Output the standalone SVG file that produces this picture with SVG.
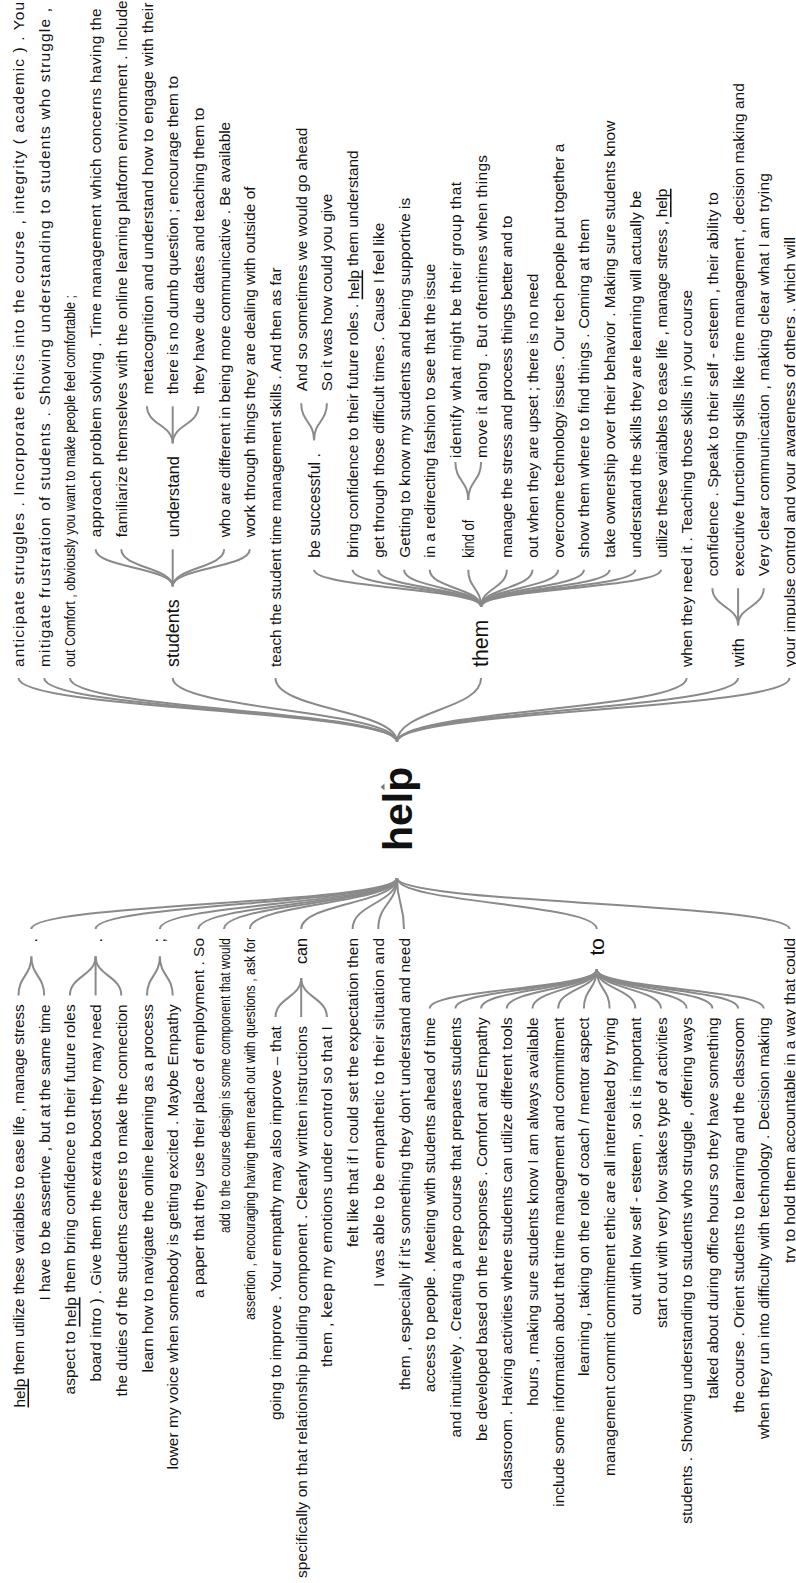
<svg xmlns="http://www.w3.org/2000/svg" width="796" height="1583" viewBox="0 0 796 1583">
<style>
.t{font-family:"Liberation Sans",Arial,sans-serif;font-size:15.4px;fill:#111;dominant-baseline:central}
.s{text-anchor:start}
.e{text-anchor:end}
.lk{fill:none;stroke:#8a8a8a;stroke-width:2}
.u{text-decoration:underline}
</style>
<rect width="796" height="1583" fill="#fff"/>
<g transform="translate(0,1583) rotate(-90)">
<g id="connectors">
<path class="lk" d="M841,397 C873,397 873,18.5 905,18.5"/>
<path class="lk" d="M841,397 C873,397 873,44.2 905,44.2"/>
<path class="lk" d="M841,397 C873,397 873,69.9 905,69.9"/>
<path class="lk" d="M841,397 C873,397 873,172.7 905,172.7"/>
<path class="lk" d="M841,397 C873,397 873,275.5 905,275.5"/>
<path class="lk" d="M841,397 C873,397 873,481.1 905,481.1"/>
<path class="lk" d="M841,397 C873,397 873,686.7 905,686.7"/>
<path class="lk" d="M841,397 C873,397 873,738.1 905,738.1"/>
<path class="lk" d="M841,397 C873,397 873,789.5 905,789.5"/>
<path class="lk" d="M705,397 C679.5,397 679.5,31.35 654,31.35"/>
<path class="lk" d="M705,397 C679.5,397 679.5,95.6 654,95.6"/>
<path class="lk" d="M705,397 C679.5,397 679.5,159.85 654,159.85"/>
<path class="lk" d="M705,397 C679.5,397 679.5,198.4 654,198.4"/>
<path class="lk" d="M705,397 C679.5,397 679.5,224.1 654,224.1"/>
<path class="lk" d="M705,397 C679.5,397 679.5,249.8 654,249.8"/>
<path class="lk" d="M705,397 C679.5,397 679.5,301.2 654,301.2"/>
<path class="lk" d="M705,397 C679.5,397 679.5,352.6 654,352.6"/>
<path class="lk" d="M705,397 C679.5,397 679.5,378.3 654,378.3"/>
<path class="lk" d="M705,397 C679.5,397 679.5,404 654,404"/>
<path class="lk" d="M705,397 C679.5,397 679.5,596.75 654,596.75"/>
<path class="lk" d="M705,397 C679.5,397 679.5,789.5 654,789.5"/>
<path class="lk" d="M996.7,172.7 C1015.2,172.7 1015.2,95.6 1033.7,95.6"/>
<path class="lk" d="M996.7,172.7 C1015.2,172.7 1015.2,121.3 1033.7,121.3"/>
<path class="lk" d="M996.7,172.7 L1033.7,172.7"/>
<path class="lk" d="M996.7,172.7 C1015.2,172.7 1015.2,224.1 1033.7,224.1"/>
<path class="lk" d="M996.7,172.7 C1015.2,172.7 1015.2,249.8 1033.7,249.8"/>
<path class="lk" d="M1139.7,172.7 C1158.2,172.7 1158.2,147 1176.7,147"/>
<path class="lk" d="M1139.7,172.7 L1176.7,172.7"/>
<path class="lk" d="M1139.7,172.7 C1158.2,172.7 1158.2,198.4 1176.7,198.4"/>
<path class="lk" d="M976.3,481.1 C994.8,481.1 994.8,314.05 1013.3,314.05"/>
<path class="lk" d="M976.3,481.1 C994.8,481.1 994.8,352.6 1013.3,352.6"/>
<path class="lk" d="M976.3,481.1 C994.8,481.1 994.8,378.3 1013.3,378.3"/>
<path class="lk" d="M976.3,481.1 C994.8,481.1 994.8,404 1013.3,404"/>
<path class="lk" d="M976.3,481.1 C994.8,481.1 994.8,429.7 1013.3,429.7"/>
<path class="lk" d="M976.3,481.1 C994.8,481.1 994.8,468.25 1013.3,468.25"/>
<path class="lk" d="M976.3,481.1 C994.8,481.1 994.8,506.8 1013.3,506.8"/>
<path class="lk" d="M976.3,481.1 C994.8,481.1 994.8,532.5 1013.3,532.5"/>
<path class="lk" d="M976.3,481.1 C994.8,481.1 994.8,558.2 1013.3,558.2"/>
<path class="lk" d="M976.3,481.1 C994.8,481.1 994.8,583.9 1013.3,583.9"/>
<path class="lk" d="M976.3,481.1 C994.8,481.1 994.8,609.6 1013.3,609.6"/>
<path class="lk" d="M976.3,481.1 C994.8,481.1 994.8,635.3 1013.3,635.3"/>
<path class="lk" d="M976.3,481.1 C994.8,481.1 994.8,661 1013.3,661"/>
<path class="lk" d="M1142.8,314.05 C1161.3,314.05 1161.3,301.2 1179.8,301.2"/>
<path class="lk" d="M1142.8,314.05 C1161.3,314.05 1161.3,326.9 1179.8,326.9"/>
<path class="lk" d="M1083,468.25 C1102,468.25 1102,455.4 1121,455.4"/>
<path class="lk" d="M1083,468.25 C1102,468.25 1102,481.1 1121,481.1"/>
<path class="lk" d="M957.8,738.1 C976.3,738.1 976.3,712.4 994.8,712.4"/>
<path class="lk" d="M957.8,738.1 L994.8,738.1"/>
<path class="lk" d="M957.8,738.1 C976.3,738.1 976.3,763.8 994.8,763.8"/>
<path class="lk" d="M626.6,31.35 C607.1,31.35 607.1,18.5 587.6,18.5"/>
<path class="lk" d="M626.6,31.35 C607.1,31.35 607.1,44.2 587.6,44.2"/>
<path class="lk" d="M626.6,95.6 C607.1,95.6 607.1,69.9 587.6,69.9"/>
<path class="lk" d="M626.6,95.6 L587.6,95.6"/>
<path class="lk" d="M626.6,95.6 C607.1,95.6 607.1,121.3 587.6,121.3"/>
<path class="lk" d="M626.6,159.85 C607.1,159.85 607.1,147 587.6,147"/>
<path class="lk" d="M626.6,159.85 C607.1,159.85 607.1,172.7 587.6,172.7"/>
<path class="lk" d="M604.9,301.2 C585.4,301.2 585.4,275.5 565.9,275.5"/>
<path class="lk" d="M604.9,301.2 L565.9,301.2"/>
<path class="lk" d="M604.9,301.2 C585.4,301.2 585.4,326.9 565.9,326.9"/>
<path class="lk" d="M613.6,596.75 C594.1,596.75 594.1,429.7 574.6,429.7"/>
<path class="lk" d="M613.6,596.75 C594.1,596.75 594.1,455.4 574.6,455.4"/>
<path class="lk" d="M613.6,596.75 C594.1,596.75 594.1,481.1 574.6,481.1"/>
<path class="lk" d="M613.6,596.75 C594.1,596.75 594.1,506.8 574.6,506.8"/>
<path class="lk" d="M613.6,596.75 C594.1,596.75 594.1,532.5 574.6,532.5"/>
<path class="lk" d="M613.6,596.75 C594.1,596.75 594.1,558.2 574.6,558.2"/>
<path class="lk" d="M613.6,596.75 C594.1,596.75 594.1,583.9 574.6,583.9"/>
<path class="lk" d="M613.6,596.75 C594.1,596.75 594.1,609.6 574.6,609.6"/>
<path class="lk" d="M613.6,596.75 C594.1,596.75 594.1,635.3 574.6,635.3"/>
<path class="lk" d="M613.6,596.75 C594.1,596.75 594.1,661 574.6,661"/>
<path class="lk" d="M613.6,596.75 C594.1,596.75 594.1,686.7 574.6,686.7"/>
<path class="lk" d="M613.6,596.75 C594.1,596.75 594.1,712.4 574.6,712.4"/>
<path class="lk" d="M613.6,596.75 C594.1,596.75 594.1,738.1 574.6,738.1"/>
<path class="lk" d="M613.6,596.75 C594.1,596.75 594.1,763.8 574.6,763.8"/>
</g>
<g id="root"><text class="t s" x="732" y="398" style="font-size:41px;font-weight:bold">help</text></g>
<g id="suffix">
<g id="s1"><text class="t s" x="916" y="18.5" textLength="665" lengthAdjust="spacing">anticipate struggles . Incorporate ethics into the course , integrity ( academic ) . You</text></g>
<g id="s2"><text class="t s" x="916" y="44.2" textLength="659" lengthAdjust="spacing">mitigate frustration of students . Showing understanding to students who struggle ,</text></g>
<g id="s3"><text class="t s" x="916" y="69.9" textLength="372" lengthAdjust="spacingAndGlyphs">out Comfort , obviously you want to make people feel comfortable ;</text></g>
<g id="students"><text class="t s" x="916" y="172.7" style="font-size:17.9px">students</text></g>
<g id="s4"><text class="t s" x="1045.7" y="95.6" textLength="529" lengthAdjust="spacing">approach problem solving . Time management which concerns having the</text></g>
<g id="s5"><text class="t s" x="1045.7" y="121.3" textLength="537" lengthAdjust="spacing">familiarize themselves with the online learning platform environment . Include</text></g>
<g id="understand"><text class="t s" x="1045.7" y="172.7" style="font-size:16.2px">understand</text></g>
<g id="s6"><text class="t s" x="1188.7" y="147" textLength="392" lengthAdjust="spacing">metacognition and understand how to engage with their</text></g>
<g id="s7"><text class="t s" x="1188.7" y="172.7">there is no dumb question ; encourage them to</text></g>
<g id="s8"><text class="t s" x="1188.7" y="198.4">they have due dates and teaching them to</text></g>
<g id="s9"><text class="t s" x="1045.7" y="224.1">who are different in being more communicative . Be available</text></g>
<g id="s10"><text class="t s" x="1045.7" y="249.8">work through things they are dealing with outside of</text></g>
<g id="s11"><text class="t s" x="916" y="275.5">teach the student time management skills . And then as far</text></g>
<g id="them"><text class="t s" x="916" y="481.1" style="font-size:21.3px">them</text></g>
<g id="besuccessful"><text class="t s" x="1025.3" y="314.05" style="font-size:15.8px">be successful .</text></g>
<g id="s12"><text class="t s" x="1191.8" y="301.2">And so sometimes we would go ahead</text></g>
<g id="s13"><text class="t s" x="1191.8" y="326.9">So it was how could you give</text></g>
<g id="s14"><text class="t s" x="1025.3" y="352.6">bring confidence to their future roles . <tspan class="u">help</tspan> them understand</text></g>
<g id="s15"><text class="t s" x="1025.3" y="378.3">get through those difficult times . Cause I feel like</text></g>
<g id="s16"><text class="t s" x="1025.3" y="404" textLength="360" lengthAdjust="spacing">Getting to know my students and being supportive is</text></g>
<g id="s17"><text class="t s" x="1025.3" y="429.7" textLength="294" lengthAdjust="spacing">in a redirecting fashion to see that the issue</text></g>
<g id="kindof"><text class="t s" x="1025.3" y="468.25" style="font-size:15.8px" textLength="38" lengthAdjust="spacingAndGlyphs">kind of</text></g>
<g id="s18"><text class="t s" x="1125" y="455.4" textLength="276" lengthAdjust="spacing">identify what might be their group that</text></g>
<g id="s19"><text class="t s" x="1125" y="481.1" textLength="303" lengthAdjust="spacing">move it along . But oftentimes when things</text></g>
<g id="s20"><text class="t s" x="1025.3" y="506.8" textLength="342" lengthAdjust="spacing">manage the stress and process things better and to</text></g>
<g id="s21"><text class="t s" x="1025.3" y="532.5" textLength="284" lengthAdjust="spacing">out when they are upset ; there is no need</text></g>
<g id="s22"><text class="t s" x="1025.3" y="558.2" textLength="414" lengthAdjust="spacing">overcome technology issues . Our tech people put together a</text></g>
<g id="s23"><text class="t s" x="1025.3" y="583.9" textLength="339" lengthAdjust="spacing">show them where to find things . Coming at them</text></g>
<g id="s24"><text class="t s" x="1025.3" y="609.6" textLength="437" lengthAdjust="spacing">take ownership over their behavior . Making sure students know</text></g>
<g id="s25"><text class="t s" x="1025.3" y="635.3" textLength="367" lengthAdjust="spacing">understand the skills they are learning will actually be</text></g>
<g id="s26"><text class="t s" x="1025.3" y="661" textLength="369" lengthAdjust="spacing">utilize these variables to ease life , manage stress , <tspan class="u">help</tspan></text></g>
<g id="s27"><text class="t s" x="916" y="686.7" textLength="377" lengthAdjust="spacing">when they need it . Teaching those skills in your course</text></g>
<g id="with"><text class="t s" x="916" y="738.1" style="font-size:16.2px">with</text></g>
<g id="s28"><text class="t s" x="1006.8" y="712.4" textLength="384" lengthAdjust="spacing">confidence . Speak to their self - esteem , their ability to</text></g>
<g id="s29"><text class="t s" x="1006.8" y="738.1" textLength="493" lengthAdjust="spacing">executive functioning skills like time management , decision making and</text></g>
<g id="s30"><text class="t s" x="1006.8" y="763.8" textLength="403" lengthAdjust="spacing">Very clear communication , making clear what I am trying</text></g>
<g id="s31"><text class="t s" x="916" y="789.5" textLength="430" lengthAdjust="spacing">your impulse control and your awareness of others . which will</text></g>
</g>
<g id="prefix">
<g id="dot1"><text class="t e" x="645" y="31.35" style="font-size:15.8px">.</text></g>
<g id="p1"><text class="t e" x="578.6" y="18.5" textLength="403" lengthAdjust="spacing"><tspan class="u">help</tspan> them utilize these variables to ease life , manage stress</text></g>
<g id="p2"><text class="t e" x="578.6" y="44.2" textLength="296" lengthAdjust="spacing">I have to be assertive , but at the same time</text></g>
<g id="dot2"><text class="t e" x="645" y="95.6" style="font-size:16.2px">.</text></g>
<g id="p3"><text class="t e" x="578.6" y="69.9" textLength="390" lengthAdjust="spacing">aspect to <tspan class="u">help</tspan> them bring confidence to their future roles</text></g>
<g id="p4"><text class="t e" x="578.6" y="95.6" textLength="377" lengthAdjust="spacing">board intro ) . Give them the extra boost they may need</text></g>
<g id="p5"><text class="t e" x="578.6" y="121.3" textLength="392" lengthAdjust="spacing">the duties of the students careers to make the connection</text></g>
<g id="semi"><text class="t e" x="645" y="159.85" style="font-size:15.8px">;</text></g>
<g id="p6"><text class="t e" x="578.6" y="147" textLength="368" lengthAdjust="spacing">learn how to navigate the online learning as a process</text></g>
<g id="p7"><text class="t e" x="578.6" y="172.7" textLength="465" lengthAdjust="spacing">lower my voice when somebody is getting excited . Maybe Empathy</text></g>
<g id="p8"><text class="t e" x="645" y="198.4" textLength="360" lengthAdjust="spacing">a paper that they use their place of employment . So</text></g>
<g id="p9"><text class="t e" x="645" y="224.1" textLength="295" lengthAdjust="spacingAndGlyphs">add to the course design is some component that would</text></g>
<g id="p10"><text class="t e" x="645" y="249.8" textLength="382" lengthAdjust="spacingAndGlyphs">assertion , encouraging having them reach out with questions , ask for</text></g>
<g id="can"><text class="t e" x="645" y="301.2" style="font-size:16.2px">can</text></g>
<g id="p11"><text class="t e" x="556.9" y="275.5" textLength="394" lengthAdjust="spacing">going to improve . Your empathy may also improve – that</text></g>
<g id="p12"><text class="t e" x="556.9" y="301.2" textLength="552" lengthAdjust="spacing">specifically on that relationship building component . Clearly written instructions</text></g>
<g id="p13"><text class="t e" x="556.9" y="326.9" textLength="341" lengthAdjust="spacing">them , keep my emotions under control so that I</text></g>
<g id="p14"><text class="t e" x="645" y="352.6" textLength="309" lengthAdjust="spacing">felt like that if I could set the expectation then</text></g>
<g id="p15"><text class="t e" x="645" y="378.3" textLength="349" lengthAdjust="spacing">I was able to be empathetic to their situation and</text></g>
<g id="p16"><text class="t e" x="645" y="404" textLength="452" lengthAdjust="spacing">them , especially if it's something they don't understand and need</text></g>
<g id="to"><text class="t e" x="645" y="596.75" style="font-size:20.9px">to</text></g>
<g id="p17"><text class="t e" x="565.6" y="429.7">access to people . Meeting with students ahead of time</text></g>
<g id="p18"><text class="t e" x="565.6" y="455.4">and intuitively . Creating a prep course that prepares students</text></g>
<g id="p19"><text class="t e" x="565.6" y="481.1">be developed based on the responses . Comfort and Empathy</text></g>
<g id="p20"><text class="t e" x="565.6" y="506.8">classroom . Having activities where students can utilize different tools</text></g>
<g id="p21"><text class="t e" x="565.6" y="532.5">hours , making sure students know I am always available</text></g>
<g id="p22"><text class="t e" x="565.6" y="558.2">include some information about that time management and commitment</text></g>
<g id="p23"><text class="t e" x="565.6" y="583.9">learning , taking on the role of coach / mentor aspect</text></g>
<g id="p24"><text class="t e" x="565.6" y="609.6">management commit commitment ethic are all interrelated by trying</text></g>
<g id="p25"><text class="t e" x="565.6" y="635.3">out with low self - esteem , so it is important</text></g>
<g id="p26"><text class="t e" x="565.6" y="661">start out with very low stakes type of activities</text></g>
<g id="p27"><text class="t e" x="565.6" y="686.7">students . Showing understanding to students who struggle , offering ways</text></g>
<g id="p28"><text class="t e" x="565.6" y="712.4">talked about during office hours so they have something</text></g>
<g id="p29"><text class="t e" x="565.6" y="738.1">the course . Orient students to learning and the classroom</text></g>
<g id="p30"><text class="t e" x="565.6" y="763.8">when they run into difficulty with technology . Decision making</text></g>
<g id="p31"><text class="t e" x="645" y="789.5">try to hold them accountable in a way that could</text></g>
</g>
</g>
<polygon id="caret" points="380.5,787 384.5,783.5 384.5,790.5" fill="#777"/>
</svg>
